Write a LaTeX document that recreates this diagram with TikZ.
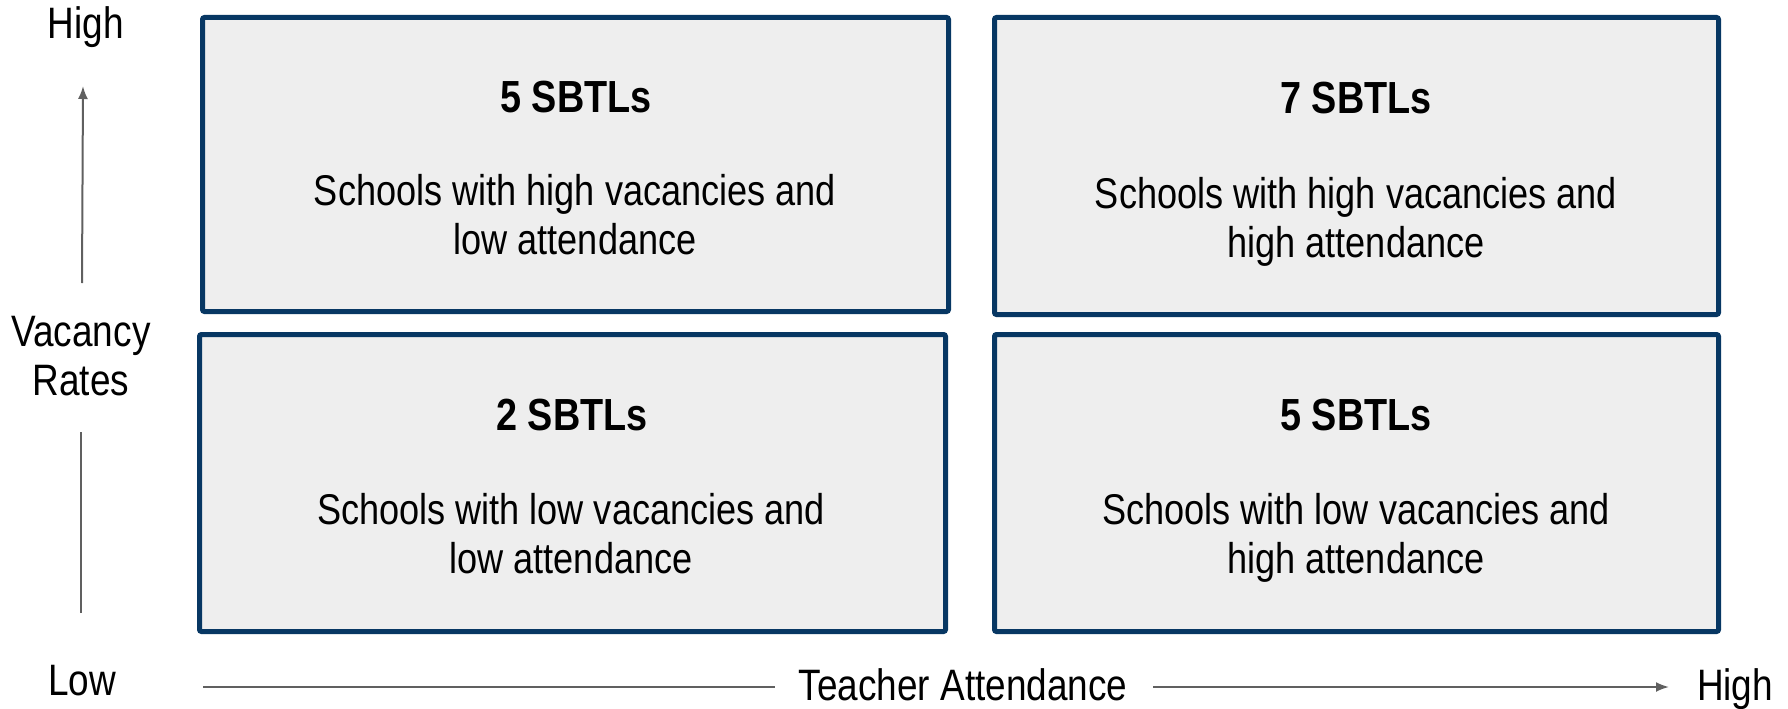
\documentclass[tikz,border=0pt]{standalone}
\usepackage{fontspec}
\setmainfont[FakeStretch=0.84]{Liberation Sans}
\usepackage{xcolor}
\usepackage{tikz}
\usetikzlibrary{arrows.meta}
\tikzset{>={Latex[length=13pt,width=10pt]}}
\definecolor{quadblue}{HTML}{073763}
\definecolor{quadgray}{HTML}{EEEEEE}
\definecolor{axisgray}{HTML}{606060}
\tikzset{
	quad/.style={draw=quadblue,fill=quadgray,line width=5pt,rounded corners=2pt,inner sep=0pt},
	count/.style={font=\fontsize{45}{50}\selectfont\bfseries,inner sep=0pt,anchor=base},
	blurb/.style={font=\fontsize{43}{49}\selectfont,align=center,inner sep=0pt,anchor=base},
	axislabel/.style={font=\fontsize{44}{49}\selectfont,inner sep=0pt,anchor=base},
	axisline/.style={draw=axisgray,line width=2pt}
}

\begin{document}
\begin{tikzpicture}[x=1pt,y=-1pt]
	\useasboundingbox (0,0) rectangle (1788,709);
	% the four quadrants
	\node[quad,minimum width=746pt,minimum height=294pt] (hl) at (575.5,164.5) {};
	\node[quad,minimum width=724pt,minimum height=297pt] (hh) at (1356.5,166) {};
	\node[quad,minimum width=746pt,minimum height=297pt] (ll) at (572.5,483) {};
	\node[quad,minimum width=724pt,minimum height=297pt] (lh) at (1356.5,483) {};

	% counts and descriptions (base = last line)
	\node[count] (hl-n) at (576,112) {5 SBTLs};
	\node[blurb] (hl-t) at (575,254) {Schools with high vacancies and\\low attendance};
	\node[count] (hh-n) at (1356,113) {7 SBTLs};
	\node[blurb] (hh-t) at (1356,257) {Schools with high vacancies and\\high attendance};
	\node[count] (ll-n) at (572,430) {2 SBTLs};
	\node[blurb] (ll-t) at (571,573) {Schools with low vacancies and\\low attendance};
	\node[count] (lh-n) at (1356,430) {5 SBTLs};
	\node[blurb] (lh-t) at (1356,573) {Schools with low vacancies and\\high attendance};

	% vertical axis
	\node[axislabel] (vhigh) at (86,39) {High};
	\node[axislabel,align=center] (vrates) at (81,395) {Vacancy\\Rates};
	\node[axislabel] (vlow) at (82,695) {Low};
	\coordinate (vtop) at (83,86);
	\coordinate (vbot) at (81,613);
	\coordinate (vgap1) at (82,283);
	\coordinate (vgap2) at (81,432);
	\draw[axisline,->] (vgap1) -- (vtop);
	\draw[axisline] (vbot) -- (vgap2);

	% horizontal axis
	\node[axislabel] (hname) at (963,700) {Teacher Attendance};
	\node[axislabel] (hhigh) at (1735,700) {High};
	\coordinate (hleft) at (203,687);
	\coordinate (hright) at (1669,687);
	\draw[axisline] (hleft) -- (775,687);
	\draw[axisline,->] (1153,687) -- (hright);
\end{tikzpicture}
\end{document}
